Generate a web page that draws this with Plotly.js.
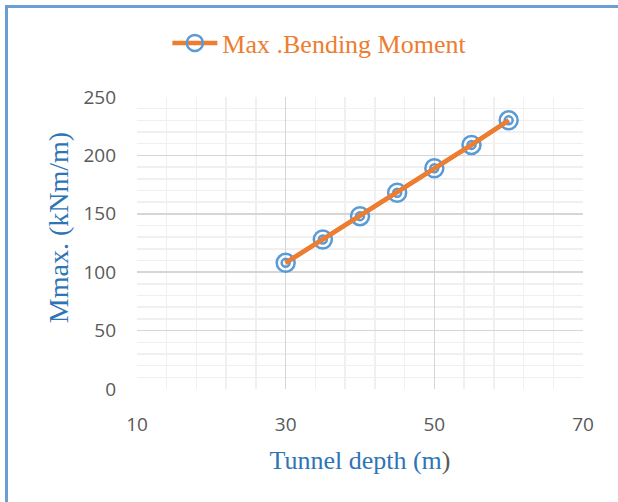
<!DOCTYPE html>
<html><head><meta charset="utf-8">
<script src="https://cdn.plot.ly/plotly-3.0.1.min.js"></script>
<style>
html,body{margin:0;padding:0;background:#fff;}
#frame{position:absolute;left:5px;top:5px;width:620px;height:510px;border-top:3px solid #6A9FD4;border-left:3px solid #6A9FD4;}
#chart{position:absolute;left:0;top:0;width:618px;height:502px;}
</style>
</head><body>
<div id="frame"></div>
<div id="chart"></div>
<script>
const depth = [30, 35, 40, 45, 50, 55, 60];
const moment = [108, 128, 148, 168, 189, 209, 230];
const seriesName = 'Max .Bending Moment';
const xTitle = 'Tunnel depth (m<span style="color:#595959">)</span>';
const yTitle = 'Mmax. (kNm/m)';

const blue = '#5B9BD5';
const orange = '#ED7D31';
const serif = 'Liberation Serif, Times New Roman, serif';

const traces = [
  {x: depth, y: moment, mode: 'lines+markers', name: seriesName,
   line: {color: orange, width: 4.5},
   marker: {symbol: 'circle-open', size: 18, color: blue, line: {color: blue, width: 2.5}}},
  {x: depth, y: moment, mode: 'markers', showlegend: false, hoverinfo: 'skip',
   marker: {symbol: 'circle-open', size: 8, color: blue, line: {color: blue, width: 2.5}}},
  {x: depth, y: moment, mode: 'lines', showlegend: false, hoverinfo: 'skip',
   line: {color: orange, width: 4.5}}
];

const layout = {
  width: 618, height: 502,
  margin: {l: 137, r: 35, t: 97, b: 113},
  paper_bgcolor: 'rgba(0,0,0,0)', plot_bgcolor: 'rgba(0,0,0,0)',
  showlegend: true,
  legend: {orientation: 'h', x: 0.41, xanchor: 'center', y: 1.185, yanchor: 'middle',
    font: {family: serif, size: 26, color: orange},
    itemwidth: 45, bgcolor: 'rgba(0,0,0,0)'},
  xaxis: {range: [10, 70], dtick: 20, tick0: 10, showline: false, zeroline: false,
    gridcolor: '#D6D6D6', gridwidth: 1.5, ticks: '', ticklabelstandoff: 22,
    minor: {dtick: 4, tick0: 10, showgrid: true, gridcolor: '#F0F0F0', gridwidth: 1.5},
    tickfont: {family: 'Open Sans, sans-serif', size: 19, color: '#595959'},
    title: {text: xTitle, standoff: 14,
      font: {family: serif, size: 26, color: '#2E75B6'}}},
  yaxis: {range: [0, 250], dtick: 50, showline: false, zeroline: false,
    gridcolor: '#D6D6D6', gridwidth: 1.5, ticks: '', ticklabelstandoff: 20,
    minor: {dtick: 10, showgrid: true, gridcolor: '#F0F0F0', gridwidth: 1.5},
    tickfont: {family: 'Open Sans, sans-serif', size: 19, color: '#595959'}},
  annotations: [{text: yTitle, xref: 'paper', yref: 'paper', x: -0.177, y: 0.551,
    xanchor: 'center', yanchor: 'middle', textangle: -90, showarrow: false,
    font: {family: serif, size: 28, color: '#2E75B6'}}]
};

Plotly.newPlot('chart', traces, layout, {displayModeBar: false, staticPlot: true});
</script>
</body></html>
